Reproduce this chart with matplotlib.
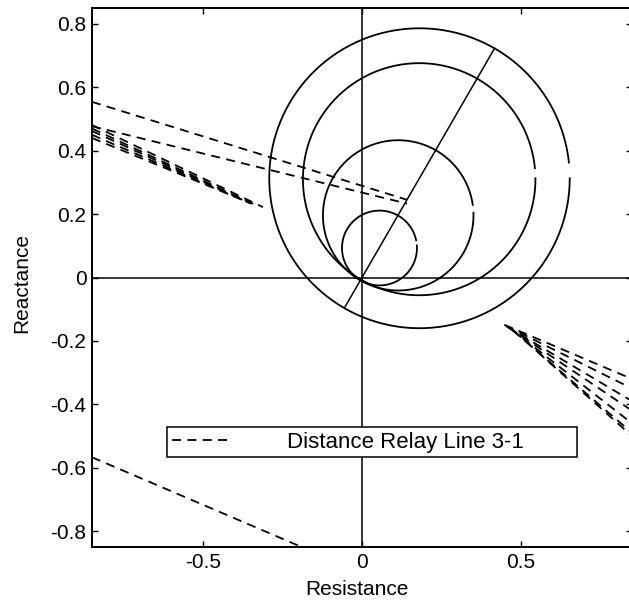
import numpy as np
import matplotlib
matplotlib.use("Agg")
import matplotlib.pyplot as plt

plt.rcParams["font.family"] = ["Liberation Sans", "DejaVu Sans"]
plt.rcParams["axes.unicode_minus"] = False

# -------------------------------
# mho circles (centre x, centre y, radius) and gap on the right side
# -------------------------------
circle_cx = [0.055, 0.114, 0.180, 0.181]
circle_cy = [0.093, 0.196, 0.310, 0.313]
circle_r = [0.118, 0.237, 0.366, 0.473]
gap_mid_deg = [8, 5, 3, 3]
gap_width_deg = [8, 6, 5, 6]

# line angle of the protected line, drawn along the outer circle diameter
line_angle_deg = 60
line_reach = [-0.11, 0.835]

# -------------------------------
# impedance trajectories seen by the relay (start -> end)
# -------------------------------
traj_x0 = [-0.85, -0.85, -0.85, -0.85, -0.85, -0.85, -0.85, -0.85,
           0.448, 0.452, 0.456, 0.462, 0.468, 0.474, 0.480]
traj_y0 = [0.554, 0.477, 0.481, 0.470, 0.462, 0.450, 0.440, -0.567,
           -0.149, -0.152, -0.155, -0.158, -0.162, -0.166, -0.170]
traj_x1 = [0.142, 0.142, -0.312, -0.330, -0.350, -0.360, -0.372, -0.19,
           0.85, 0.85, 0.85, 0.85, 0.85, 0.85, 0.85]
traj_y1 = [0.245, 0.233, 0.222, 0.226, 0.233, 0.238, 0.243, -0.85,
           -0.320, -0.350, -0.390, -0.420, -0.460, -0.490, -0.500]

xticks = [-0.5, 0, 0.5]
xticklabels = ["-0.5", "0", "0.5"]
yticks = [-0.8, -0.6, -0.4, -0.2, 0, 0.2, 0.4, 0.6, 0.8]
yticklabels = ["-0.8", "-0.6", "-0.4", "-0.2", "0", "0.2", "0.4", "0.6", "0.8"]

fig = plt.figure(figsize=(6.29, 6.04), dpi=100)
ax = fig.add_axes([92 / 629, 57 / 604, 540 / 629, 539 / 604])

# axes cross
ax.axhline(0, color="black", lw=1.1, zorder=1)
ax.axvline(0, color="black", lw=1.1, zorder=1)

# circles
for cx, cy, r, gm, gw in zip(circle_cx, circle_cy, circle_r, gap_mid_deg, gap_width_deg):
    t = np.radians(np.linspace(gm + gw / 2, gm + 360 - gw / 2, 400))
    ax.plot(cx + r * np.cos(t), cy + r * np.sin(t), color="black", lw=1.3)

# line angle
a = np.radians(line_angle_deg)
ax.plot(np.array(line_reach) * np.cos(a), np.array(line_reach) * np.sin(a),
        color="black", lw=1.1)

# trajectories
for i, (x0, y0, x1, y1) in enumerate(zip(traj_x0, traj_y0, traj_x1, traj_y1)):
    ax.plot([x0, x1], [y0, y1], color="black", lw=1.3, dashes=(5, 3.5),
            label="Distance Relay Line 3-1" if i == 0 else None)

ax.set_xlim(-0.85, 0.85)
ax.set_ylim(-0.85, 0.85)
ax.set_xticks(xticks)
ax.set_xticklabels(xticklabels)
ax.set_yticks(yticks)
ax.set_yticklabels(yticklabels)
ax.tick_params(direction="in", length=4, width=1, top=True, right=True,
               labelsize=15, pad=4)
for s in ax.spines.values():
    s.set_linewidth(1.4)

ax.set_xlabel("Resistance", fontsize=15)
ax.set_ylabel("Reactance", fontsize=15)
ax.xaxis.set_label_coords(0.49, -0.062)
ax.yaxis.set_label_coords(-0.112, 0.489)

leg = ax.legend(loc="lower left", bbox_to_anchor=(0.139, 0.167, 0.759, 0.065),
                mode="expand", borderaxespad=0, fontsize=16, fancybox=False,
                framealpha=1, edgecolor="black", borderpad=0.2,
                handlelength=2.55, handletextpad=2.65)
leg.get_frame().set_linewidth(1.1)

fig.savefig("out.png", dpi=100)
